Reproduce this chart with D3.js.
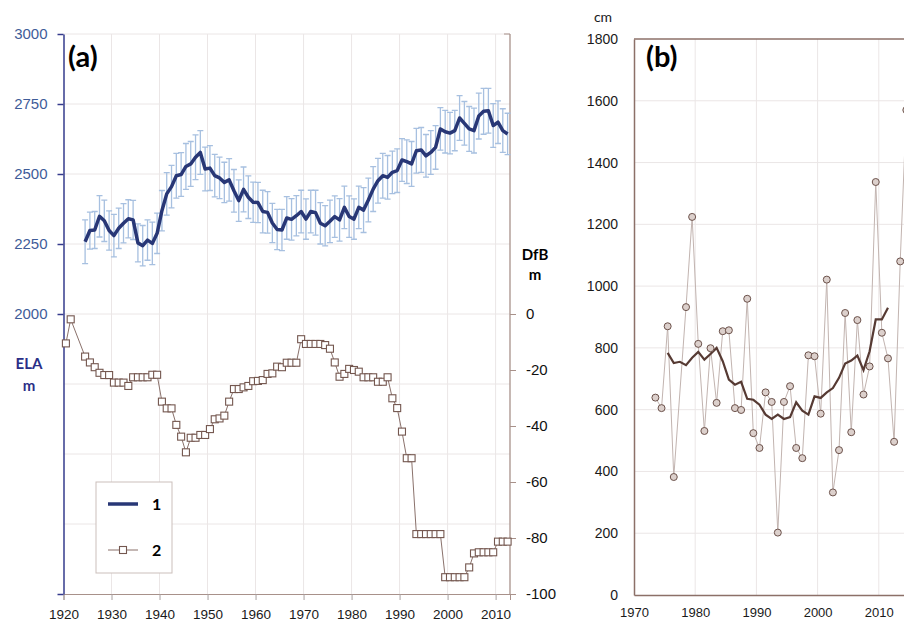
<!DOCTYPE html>
<html>
<head>
<meta charset="utf-8">
<script src="https://cdn.jsdelivr.net/npm/d3@7/dist/d3.min.js"></script>
<style>
  body { margin: 0; background: #fff; }
  svg { display: block; font-family: Lato, "Open Sans", sans-serif; }
</style>
</head>
<body>
<svg id="chart" width="904" height="623"></svg>
<script>
"use strict";

// panel (a): ELA (1) with error bars, DfB (2)
var elaYears = d3.range(1924, 2013);
var elaValues = [
  2258, 2298, 2300, 2349, 2333, 2298, 2280, 2306, 2324, 2340,
  2336, 2254, 2244, 2264, 2252, 2288, 2369, 2429, 2455, 2494,
  2498, 2527, 2536, 2560, 2577, 2518, 2521, 2494, 2486, 2470,
  2479, 2440, 2405, 2445, 2417, 2399, 2398, 2366, 2363, 2325,
  2302, 2300, 2343, 2338, 2351, 2366, 2339, 2366, 2362, 2324,
  2315, 2331, 2348, 2336, 2381, 2348, 2339, 2381, 2371, 2407,
  2446, 2476, 2494, 2488, 2506, 2512, 2550, 2544, 2536, 2583,
  2586, 2565, 2577, 2595, 2661, 2651, 2646, 2655, 2700, 2681,
  2661, 2655, 2707, 2724, 2726, 2673, 2685, 2655, 2643
];
var elaErrors = [
  78, 66, 66, 74, 74, 70, 76, 72, 70, 68,
  70, 68, 72, 72, 76, 72, 72, 76, 76, 80,
  78, 82, 80, 80, 78, 78, 80, 76, 74, 72,
  76, 76, 74, 80, 76, 72, 72, 76, 74, 70,
  72, 74, 76, 74, 72, 76, 72, 76, 80, 74,
  72, 76, 74, 76, 76, 74, 72, 76, 80, 78,
  80, 80, 80, 78, 76, 78, 76, 78, 80, 80,
  80, 76, 78, 78, 76, 76, 74, 72, 80, 78,
  80, 80, 82, 82, 80, 78, 76, 78, 74
];
var dfbYears = [1920, 1921].concat(d3.range(1924, 2013));
var dfbValues = [
  -10.5, -1.9,
  -15.2, -17.3, -19, -21, -21.8, -21.8, -24.5, -24.5, -24.5, -25.7,
  -22.6, -22.6, -22.6, -22.6, -21.7, -21.7,
  -31.3, -33.7, -33.7, -39.6, -43.8, -49.4, -44.2, -44.2, -43.2, -43.2,
  -41.1, -37.6, -37.3, -36.3, -31.3, -26.8, -26.8, -26.2, -25.7, -24,
  -23.9, -23.6, -21.4, -21.2, -18.8, -19, -17.4, -17.4, -17.4, -9,
  -10.7, -10.7, -10.7, -10.7, -11.1, -12.4, -17.3, -22.4, -21.4, -19.6,
  -20, -20.6, -22.6, -22.6, -22.6, -24.2, -24.2, -22.6, -30.1, -33.6,
  -42, -51.5, -51.5, -78.6, -78.6, -78.6, -78.6, -78.6, -78.6, -94,
  -94, -94, -94, -94, -90.5, -85.5, -85.1, -85.1, -85.1, -85.1,
  -81.3, -81.3, -81.3
];
var elaTicks = [1000, 2000, 2250, 2500, 2750, 3000];
var dfbTicks = [0, -20, -40, -60, -80, -100];
var yearTicksA = [1920, 1930, 1940, 1950, 1960, 1970, 1980, 1990, 2000, 2010];

// panel (b): snow depth, cm
var snowYears = [1973, 1974, 1975, 1976, 1978, 1979, 1980, 1981, 1982, 1983,
  1984, 1985, 1986, 1987, 1988, 1989, 1990, 1991, 1992, 1993,
  1994, 1995, 1996, 1997, 1998, 1999, 2000, 2001, 2002, 2003,
  2004, 2005, 2006, 2007, 2008, 2009, 2010, 2011, 2012, 2013, 2014];
var snowValues = [639, 605, 870, 382, 932, 1224, 813, 531, 799, 622,
  854, 857, 605, 599, 959, 524, 476, 656, 625, 202,
  625, 676, 476, 443, 776, 773, 587, 1021, 332, 469,
  913, 527, 890, 649, 740, 1337, 849, 766, 496, 1080, 1570];
var avgYears = d3.range(1975, 2012);
var avgValues = [784, 751, 755, 744, 768, 787, 762, 780, 800, 757,
  697, 681, 690, 635, 632, 616, 584, 570, 584, 570,
  576, 624, 597, 584, 643, 638, 656, 670, 703, 749,
  759, 775, 728, 789, 892, 892, 930];
var snowTicks = [0, 200, 400, 600, 800, 1000, 1200, 1400, 1600, 1800];
var yearTicksB = [1970, 1980, 1990, 2000, 2010];

var svg = d3.select("#chart");
var gridColour = "#ebe6e6";
var plain = function(d) { return String(d); };

/*
 * panel (a)
 */
var xA = d3.scaleLinear().domain([1920, 2013]).range([63.5, 510]);
var yEla = d3.scaleLinear().domain([1000, 3000]).range([594, 34]);
var yDfb = d3.scaleLinear().domain([-100, 0]).range([594, 314]);
var gA = svg.append("g");

// grid
gA.selectAll("line.hgrid")
  .data(d3.range(1250, 3001, 250)).enter()
  .append("line")
    .attr("x1", xA(1920)).attr("x2", xA(2013))
    .attr("y1", function(d) { return yEla(d); })
    .attr("y2", function(d) { return yEla(d); })
    .style("stroke", gridColour);
gA.selectAll("line.vgrid")
  .data(yearTicksA.slice(1)).enter()
  .append("line")
    .attr("x1", function(d) { return xA(d); })
    .attr("x2", function(d) { return xA(d); })
    .attr("y1", yEla(3000)).attr("y2", yEla(1000))
    .style("stroke", gridColour);

// x axis
var xAxisA = gA.append("g")
  .attr("transform", "translate(0," + yEla(1000) + ")")
  .call(d3.axisBottom(xA).tickValues(yearTicksA).tickFormat(plain)
    .tickSize(6).tickPadding(9));
xAxisA.select(".domain").style("stroke", "#a8918a");
xAxisA.selectAll(".tick line").style("stroke", "#a8a0a0");
xAxisA.selectAll("text").style("font-size", "13.5px").style("fill", "#1a1a1a");

// left axis (ELA)
var leftAxisA = gA.append("g")
  .attr("transform", "translate(" + xA(1920) + ",0)")
  .call(d3.axisLeft(yEla).tickValues(elaTicks)
    .tickFormat(function(d) { return d < 2000 ? "" : String(d); })
    .tickSize(6).tickPadding(10).tickSizeOuter(0));
leftAxisA.selectAll(".domain, .tick line").style("stroke", "#353b8c").style("stroke-width", 1.5);
leftAxisA.selectAll("text").style("font-size", "15px").style("fill", "#3f5c99");

// right axis (DfB)
var rightAxisA = gA.append("g")
  .attr("transform", "translate(" + xA(2013) + ",0)")
  .call(d3.axisRight(yDfb).tickValues(dfbTicks).tickFormat(plain)
    .tickSize(6).tickPadding(10).tickSizeOuter(0));
rightAxisA.select(".domain")
  .attr("d", "M0," + yEla(3000) + "V" + yEla(1000))
  .style("stroke", "#a8918a").style("stroke-width", 1.3);
rightAxisA.selectAll(".tick line").style("stroke", "#a8918a");
rightAxisA.selectAll("text").style("font-size", "15px").style("fill", "#111");
rightAxisA.append("line")
  .attr("x1", -6).attr("x2", 0)
  .attr("y1", yEla(3000)).attr("y2", yEla(3000))
  .style("stroke", "#a8918a");

// error bars
var elaData = elaYears.map(function(y, i) {
  return { year: y, v: elaValues[i], e: elaErrors[i] };
});
var bars = gA.append("g").style("stroke", "#a7c0e0").style("stroke-width", 1.3);
bars.selectAll("path")
  .data(elaData).enter()
  .append("path")
    .attr("d", function(d) {
      var cx = xA(d.year + 0.5), t = yEla(d.v + d.e), b = yEla(d.v - d.e);
      return "M" + cx + "," + t + "V" + b
        + "M" + (cx - 3) + "," + t + "H" + (cx + 3)
        + "M" + (cx - 3) + "," + b + "H" + (cx + 3);
    })
    .style("fill", "none");

// ELA line
gA.append("path")
  .datum(elaData)
  .attr("d", d3.line()
    .x(function(d) { return xA(d.year + 0.5); })
    .y(function(d) { return yEla(d.v); }))
  .style("fill", "none")
  .style("stroke", "#283776")
  .style("stroke-width", 3.5)
  .style("stroke-linejoin", "round");

// DfB line and squares
var dfbData = dfbYears.map(function(y, i) { return { year: y, v: dfbValues[i] }; });
gA.append("path")
  .datum(dfbData)
  .attr("d", d3.line()
    .x(function(d) { return xA(d.year + 0.5); })
    .y(function(d) { return yDfb(d.v); }))
  .style("fill", "none")
  .style("stroke", "#8a716b")
  .style("stroke-width", 1);
gA.selectAll("rect.dfb")
  .data(dfbData).enter()
  .append("rect")
    .attr("class", "dfb")
    .attr("x", function(d) { return xA(d.year + 0.5) - 3.5; })
    .attr("y", function(d) { return yDfb(d.v) - 3.5; })
    .attr("width", 7).attr("height", 7)
    .style("fill", "#fff")
    .style("stroke", "#74574f")
    .style("stroke-width", 1.1);

// labels
gA.append("text").attr("x", 68).attr("y", 67)
  .style("font-size", "29px").style("font-weight", "bold").text("(a)");
gA.append("text").attr("x", 29).attr("y", 369).attr("text-anchor", "middle")
  .style("font-size", "15px").style("font-weight", "bold").style("fill", "#2b2f87").text("ELA");
gA.append("text").attr("x", 29).attr("y", 391).attr("text-anchor", "middle")
  .style("font-size", "15px").style("font-weight", "bold").style("fill", "#2b2f87").text("m");
gA.append("text").attr("x", 535).attr("y", 260).attr("text-anchor", "middle")
  .style("font-size", "15px").style("font-weight", "bold").text("DfB");
gA.append("text").attr("x", 535).attr("y", 280).attr("text-anchor", "middle")
  .style("font-size", "15px").style("font-weight", "bold").text("m");

// legend
var legend = gA.append("g");
legend.append("rect")
  .attr("x", 96).attr("y", 482).attr("width", 76).attr("height", 91)
  .style("fill", "#fff").style("stroke", "#cbbfbb");
legend.append("line")
  .attr("x1", 108).attr("x2", 138).attr("y1", 504).attr("y2", 504)
  .style("stroke", "#283776").style("stroke-width", 3.5);
legend.append("line")
  .attr("x1", 108).attr("x2", 138).attr("y1", 550).attr("y2", 550)
  .style("stroke", "#8a716b");
legend.append("rect")
  .attr("x", 119.5).attr("y", 546.5).attr("width", 7).attr("height", 7)
  .style("fill", "#fff").style("stroke", "#74574f").style("stroke-width", 1.1);
legend.append("text").attr("x", 152).attr("y", 510)
  .style("font-size", "16px").style("font-weight", "bold").text("1");
legend.append("text").attr("x", 152).attr("y", 556)
  .style("font-size", "16px").style("font-weight", "bold").text("2");

/*
 * panel (b)
 */
var xB = d3.scaleLinear().domain([1970, 2020]).range([634, 940]);
var yB = d3.scaleLinear().domain([0, 1800]).range([595, 39]);
var gB = svg.append("g");

gB.selectAll("line.hgrid")
  .data(snowTicks.slice(1, -1)).enter()
  .append("line")
    .attr("x1", xB(1970)).attr("x2", xB(2020))
    .attr("y1", function(d) { return yB(d); })
    .attr("y2", function(d) { return yB(d); })
    .style("stroke", gridColour);
gB.selectAll("line.vgrid")
  .data(yearTicksB.slice(1)).enter()
  .append("line")
    .attr("x1", function(d) { return xB(d); })
    .attr("x2", function(d) { return xB(d); })
    .attr("y1", yB(1800)).attr("y2", yB(0))
    .style("stroke", gridColour);

var xAxisB = gB.append("g")
  .attr("transform", "translate(0," + yB(0) + ")")
  .call(d3.axisBottom(xB).tickValues(yearTicksB).tickFormat(plain)
    .tickSize(0).tickPadding(13).tickSizeOuter(0));
xAxisB.select(".domain").style("stroke", "#8c7068").style("stroke-width", 1.5);
xAxisB.selectAll("text").style("font-size", "13px").style("fill", "#1a1a1a");

var yAxisB = gB.append("g")
  .attr("transform", "translate(" + xB(1970) + ",0)")
  .call(d3.axisLeft(yB).tickValues(snowTicks).tickFormat(plain)
    .tickSize(0).tickPadding(16).tickSizeOuter(0));
yAxisB.select(".domain").style("stroke", "#8c7068").style("stroke-width", 1.5);
yAxisB.selectAll("text").style("font-size", "14px").style("fill", "#1a1a1a");

// frame top
gB.append("line")
  .attr("x1", xB(1970)).attr("x2", xB(2020))
  .attr("y1", yB(1800)).attr("y2", yB(1800))
  .style("stroke", "#8c7068").style("stroke-width", 1.5);

var snowData = snowYears.map(function(y, i) { return { year: y, v: snowValues[i] }; });
gB.append("path")
  .datum(snowData)
  .attr("d", d3.line()
    .x(function(d) { return xB(d.year + 0.5); })
    .y(function(d) { return yB(d.v); }))
  .style("fill", "none")
  .style("stroke", "#c2b4b0")
  .style("stroke-width", 1);

var avgData = avgYears.map(function(y, i) { return { year: y, v: avgValues[i] }; });
gB.append("path")
  .datum(avgData)
  .attr("d", d3.line()
    .x(function(d) { return xB(d.year + 0.5); })
    .y(function(d) { return yB(d.v); }))
  .style("fill", "none")
  .style("stroke", "#563a33")
  .style("stroke-width", 2.2);

gB.selectAll("circle")
  .data(snowData).enter()
  .append("circle")
    .attr("cx", function(d) { return xB(d.year + 0.5); })
    .attr("cy", function(d) { return yB(d.v); })
    .attr("r", 3.5)
    .style("fill", "#dcd0cc")
    .style("stroke", "#6b514a")
    .style("stroke-width", 1);

gB.append("text").attr("x", 646).attr("y", 67)
  .style("font-size", "29px").style("font-weight", "bold").text("(b)");
gB.append("text").attr("x", 603).attr("y", 22).attr("text-anchor", "middle")
  .style("font-size", "14px").style("fill", "#1a1a1a").text("cm");
</script>
</body>
</html>
